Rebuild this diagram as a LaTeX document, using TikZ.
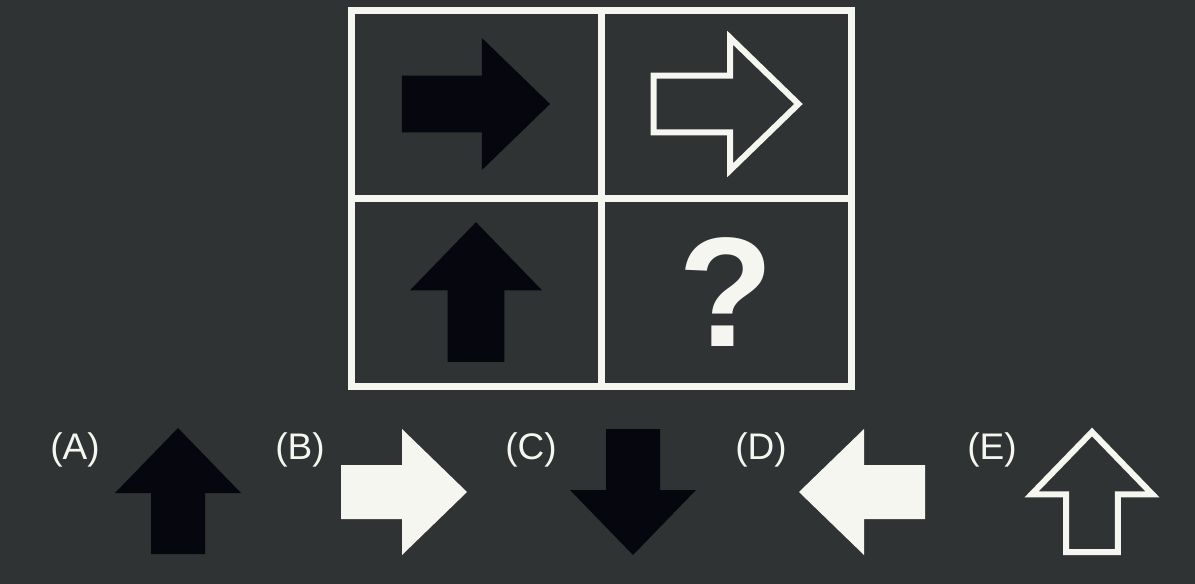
\documentclass[tikz,border=0pt]{standalone}
\usepackage{fontspec}
\setmainfont{Liberation Sans}
\usetikzlibrary{positioning}
\definecolor{boardbg}{RGB}{47,51,51}
\definecolor{inkblack}{RGB}{6,6,14}
\definecolor{chalk}{RGB}{246,246,240}
\tikzset{
  cell/.style={
    rectangle, draw=chalk, line width=3.5pt, outer sep=0pt,
    minimum width=125pt, minimum height=94pt, inner sep=0pt
  },
  solid arrow/.style={fill=inkblack},
  white arrow/.style={fill=chalk},
  hollow arrow/.style={draw=chalk, line width=3pt, miter limit=10},
  opt label/.style={
    text=chalk, font=\fontsize{18.5}{22}\selectfont, inner sep=0pt
  },
  pics/block arrow/.style={
    code={
      \path[pic actions] (-#1,-27) -- (#1-65,-27) -- (#1-65,-63) -- (#1,0)
        -- (#1-65,63) -- (#1-65,27) -- (-#1,27) -- cycle;
    }
  }
}

\begin{document}
\begin{tikzpicture}[x=0.5pt, y=-0.5pt]
  \fill[boardbg] (0,0) rectangle (1195,584);

  % puzzle grid
  \node (c11) [cell] at (476,104) {};
  \node (c12) [cell, right=0pt of c11] {};
  \node (c21) [cell, below=0pt of c11] {};
  \node (c22) [cell, right=0pt of c21, text=chalk,
    font=\fontsize{78}{80}\selectfont\bfseries] {?};

  \pic [solid arrow, scale=1.05] at (c11) {block arrow=70.5};
  \pic [hollow arrow, scale=1.05] at (c12) {block arrow=69};
  \pic [solid arrow, scale=1.05, rotate=90] at (c21) {block arrow=66.5};

  % answer options
  \node (optA) [opt label] at (75,450) {(A)};
  \pic [solid arrow, rotate=90] at (178,491) {block arrow=63};

  \node (optB) [opt label] at (300,450) {(B)};
  \pic [white arrow] at (404,492) {block arrow=63};

  \node (optC) [opt label] at (531,450) {(C)};
  \pic [solid arrow, rotate=-90] at (633,492) {block arrow=63};

  \node (optD) [opt label] at (761,450) {(D)};
  \pic [white arrow, rotate=180] at (862,492) {block arrow=63};

  \node (optE) [opt label] at (992,450) {(E)};
  \pic [hollow arrow, scale=0.96, rotate=90] at (1092,492) {block arrow=62.5};
\end{tikzpicture}
\end{document}
